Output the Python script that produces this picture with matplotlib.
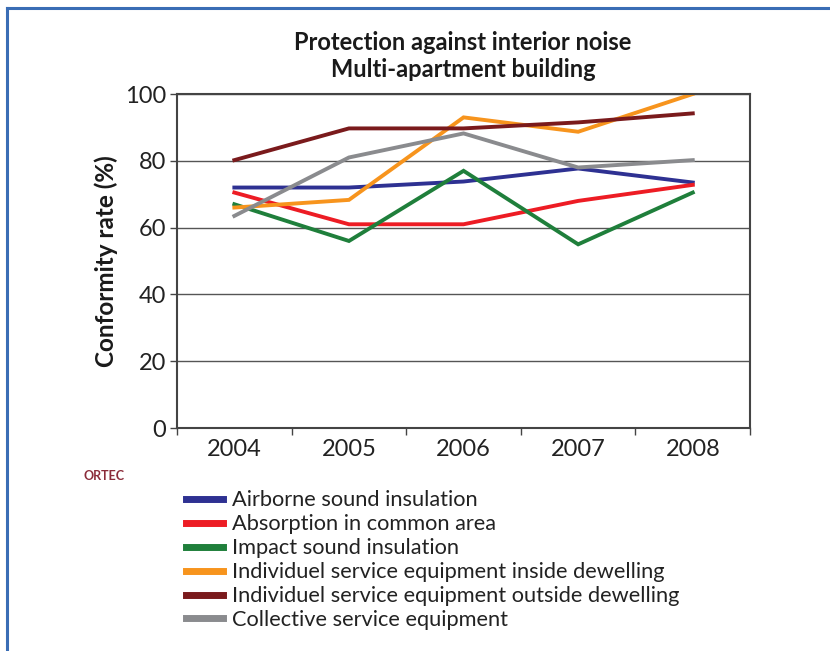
import matplotlib.pyplot as plt
from matplotlib.lines import Line2D

plt.rcParams['font.family'] = ['Lato', 'DejaVu Sans']

years = ['2004', '2005', '2006', '2007', '2008']
airborne = [72, 72, 73.8, 77.7, 73.5]
absorption = [70.5, 61, 61, 68, 72.8]
impact = [67, 56, 77, 55, 70.5]
inside = [66, 68.3, 93, 88.7, 100]
outside = [80.2, 89.7, 89.7, 91.5, 94.2]
collective = [63.5, 81, 88.2, 78, 80.2]

series = [
    ('Airborne sound insulation', airborne, '#2E3192'),
    ('Absorption in common area', absorption, '#ED1C24'),
    ('Impact sound insulation', impact, '#1F7F3B'),
    ('Individuel service equipment inside dewelling', inside, '#F7941D'),
    ('Individuel service equipment outside dewelling', outside, '#7A1A1C'),
    ('Collective service equipment', collective, '#8A8B8E'),
]

fig = plt.figure(figsize=(8.3, 6.51), dpi=100)
ax = fig.add_axes([0.2133, 0.3425, 0.6904, 0.5131])

x = range(len(years))
for label, vals, col in series:
    ax.plot(x, vals, color=col, lw=2.8, label=label, solid_joinstyle='miter')

ax.set_xlim(-0.5, 4.5)
ax.set_ylim(0, 100)
ax.set_yticks([0, 20, 40, 60, 80, 100])
ax.set_xticks(list(x))
ax.set_xticklabels(years)
ax.set_xticks([-0.5, 0.5, 1.5, 2.5, 3.5, 4.5], minor=True)
ax.tick_params(axis='x', which='major', length=0, labelsize=17, pad=8, colors='#222222')
ax.tick_params(axis='x', which='minor', length=5, width=1, color='#444444')
ax.tick_params(axis='y', length=5, width=1, color='#444444', labelsize=17, labelcolor='#222222', pad=3)
ax.yaxis.grid(True, color='#555555', lw=1)
ax.set_axisbelow(True)
for s in ax.spines.values():
    s.set_color('#444444')
    s.set_linewidth(1.5)

ax.set_ylabel('Conformity rate (%)', fontsize=17.5, fontweight='bold', color='#1a1a1a', labelpad=5)

fig.text(0.558, 0.934, 'Protection against interior noise', ha='center', va='center',
         fontsize=17, fontweight='bold', color='#1a1a1a')
fig.text(0.558, 0.893, 'Multi-apartment building', ha='center', va='center',
         fontsize=17, fontweight='bold', color='#1a1a1a')

fig.text(0.1, 0.269, 'ORTEC', ha='left', va='center', fontsize=9,
         fontweight='bold', color='#8B2C3A')

fig.legend(loc='upper left', bbox_to_anchor=(0.213, 0.26), frameon=False,
           fontsize=15.7, handlelength=1.7, handletextpad=0.45, labelspacing=0.18,
           borderaxespad=0, labelcolor='#222222')
for h in fig.legends[0].legend_handles:
    h.set_linewidth(5)

# blue frame of the page box
fig.add_artist(Line2D([7 / 830, 1], [1 - 8 / 651, 1 - 8 / 651], color='#3A6DB5', lw=2.2))
fig.add_artist(Line2D([7 / 830, 7 / 830], [0, 1 - 8 / 651], color='#3A6DB5', lw=2.2))

fig.savefig('out.png', dpi=100)
